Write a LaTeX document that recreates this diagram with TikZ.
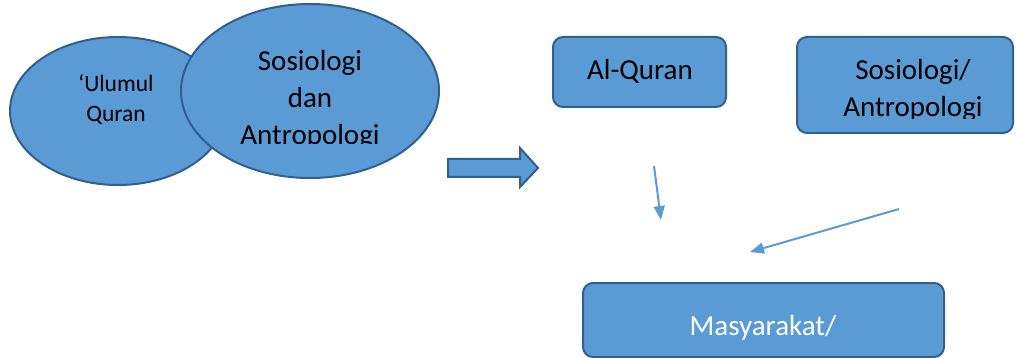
\documentclass[tikz,border=0pt]{standalone}
\usepackage{fontspec}
\setmainfont{Carlito}
\usetikzlibrary{shapes.geometric,arrows.meta}
\definecolor{fillb}{HTML}{5B9BD5}
\definecolor{edgeb}{HTML}{31608F}
\begin{document}
\begin{tikzpicture}[x=1pt,y=-1pt,
  shapeb/.style={fill=fillb,draw=edgeb,line width=2pt,inner sep=0pt},
  ell/.style={shapeb,ellipse},
  boxb/.style={shapeb,rectangle,rounded corners=10pt},
  big/.style={font=\fontsize{29}{35}\selectfont,anchor=base,inner sep=0pt},
  small/.style={font=\fontsize{23.5}{28}\selectfont,anchor=base,inner sep=0pt},
  conn/.style={draw=fillb,line width=2pt,-{Triangle[length=14pt,width=11pt]}}]
\useasboundingbox (0,0) rectangle (1017,358);
% ellipses
\node[ell,minimum width=216pt,minimum height=148pt] (ulum) at (118,111) {};
\node[small] (ulumA) at (116,92) {‘Ulumul};
\node[small] (ulumB) at (116,122) {Quran};
\node[ell,minimum width=258pt,minimum height=174pt] (sos) at (310,91) {};
\node[big] (sosA) at (310,71) {Sosiologi};
\node[big] (sosB) at (310,108) {dan};
\begin{scope}
\clip (150,0) rectangle (450,144);
\node[big] (sosC) at (310,145) {Antropologi};
\end{scope}
% block arrow
\path[shapeb] (448,159) -- (520,159) -- (520,148) -- (538,168) -- (520,187) -- (520,177) -- (448,177) -- cycle;
% boxes
\node[boxb,minimum width=173pt,minimum height=70pt] (quran) at (639.5,72) {};
\node[big] (quranT) at (640,80) {Al-Quran};
\node[boxb,minimum width=216pt,minimum height=96pt] (antro) at (905,85) {};
\node[big] (antroA) at (913,80) {Sosiologi/};
\begin{scope}
\clip (800,0) rectangle (1010,119);
\node[big] (antroB) at (913,117) {Antropologi};
\end{scope}
\node[boxb,minimum width=361pt,minimum height=74pt] (masy) at (763.5,320) {};
\node[big,text=white] (masyA) at (763,335) {Masyarakat/};
\begin{scope}
\clip (590,290) rectangle (940,347);
\node[big,text=white] (masyB) at (763,371) {individu/kaum};
\end{scope}
% connectors
\coordinate (a1s) at (654,166);
\coordinate (a1e) at (661,220);
\coordinate (a2s) at (899,209);
\coordinate (a2e) at (750,252);
\draw[conn] (a1s) -- (a1e);
\draw[conn] (a2s) -- (a2e);
\end{tikzpicture}
\end{document}
